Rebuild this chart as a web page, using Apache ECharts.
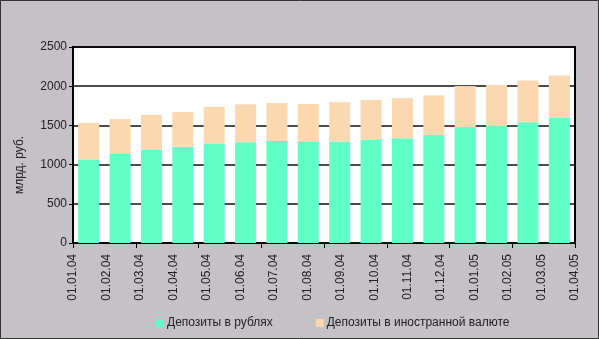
<!DOCTYPE html>
<html>
<head>
<meta charset="utf-8">
<script src="https://cdn.jsdelivr.net/npm/echarts@6/dist/echarts.min.js"></script>
<style>
  html, body { margin: 0; padding: 0; background: #c4c2c4; }
  #chart { width: 599px; height: 339px; }
</style>
</head>
<body>
<div id="chart"></div>
<script>
// Deposits of individuals, bn RUB, monthly snapshots
const categories = ['01.01.04', '01.02.04', '01.03.04', '01.04.04', '01.05.04', '01.06.04',
  '01.07.04', '01.08.04', '01.09.04', '01.10.04', '01.11.04', '01.12.04',
  '01.01.05', '01.02.05', '01.03.05', '01.04.05'];
const rubleDeposits = [1065, 1135, 1190, 1228, 1270, 1286, 1303, 1290, 1295, 1313, 1335, 1376, 1478, 1491, 1540, 1599];
const foreignDeposits = [467, 445, 445, 443, 467, 483, 483, 483, 501, 509, 512, 507, 524, 524, 534, 539];
const seriesNames = ['Депозиты в рублях', 'Депозиты в иностранной валюте'];
const yAxisTitle = 'млрд. руб.';

const FONT = '"Liberation Sans", Arial, sans-serif';
const TEXT = '#222';

const chart = echarts.init(document.getElementById('chart'), null, { renderer: 'canvas' });

chart.setOption({
  backgroundColor: '#c4c2c4',
  animation: false,
  textStyle: { fontFamily: FONT },
  grid: {
    left: 73, right: 24, top: 47, bottom: 96,
    show: true,
    backgroundColor: '#ffffff',
    borderColor: '#000',
    borderWidth: 2,
    outerBoundsMode: 'none'
  },
  legend: {
    left: 151,
    top: 312,
    itemWidth: 8,
    itemHeight: 8,
    itemGap: 43,
    icon: 'rect',
    textStyle: { color: TEXT, fontSize: 12, fontFamily: FONT, padding: [0, 0, 0, -2] },
    data: seriesNames
  },
  xAxis: [
    {
      // bar positions; ticks on category boundaries
      type: 'category',
      data: categories,
      boundaryGap: true,
      position: 'bottom',
      axisLine: { show: true, lineStyle: { color: '#000', width: 2 } },
      axisTick: { show: true, length: 5, lineStyle: { color: '#000', width: 1 } },
      axisLabel: { show: false },
      splitLine: { show: false }
    },
    {
      // date labels spread edge to edge
      type: 'category',
      data: categories,
      boundaryGap: false,
      position: 'bottom',
      axisLine: { show: false },
      axisTick: { show: false },
      axisLabel: {
        rotate: 90,
        interval: 0,
        margin: 11,
        color: TEXT,
        fontSize: 12,
        fontFamily: FONT
      },
      splitLine: { show: false }
    }
  ],
  yAxis: {
    type: 'value',
    min: 0,
    max: 2500,
    interval: 500,
    axisLine: { show: true, lineStyle: { color: '#000', width: 2 } },
    axisTick: { show: true, length: 4, lineStyle: { color: '#000', width: 1 } },
    axisLabel: {
      color: TEXT, fontSize: 12, fontFamily: FONT, margin: 6,
      formatter: (v) => String(v)
    },
    splitLine: { show: true, lineStyle: { color: '#111', width: 1.5 } }
  },
  graphic: [
    {
      type: 'text',
      x: 20,
      y: 165,
      rotation: Math.PI / 2,
      style: {
        text: yAxisTitle,
        fill: TEXT,
        font: '12px ' + FONT,
        align: 'center',
        verticalAlign: 'middle'
      }
    },
    {
      type: 'rect',
      shape: { x: 0.5, y: 0.5, width: 598, height: 338 },
      style: { fill: null, stroke: '#333', lineWidth: 1 },
      silent: true,
      z: 100
    }
  ],
  series: [
    {
      name: seriesNames[0],
      type: 'bar',
      stack: 'total',
      xAxisIndex: 0,
      barWidth: '67%',
      itemStyle: { color: '#60ffc8' },
      data: rubleDeposits
    },
    {
      name: seriesNames[1],
      type: 'bar',
      stack: 'total',
      xAxisIndex: 0,
      barWidth: '67%',
      itemStyle: { color: '#fcd8b0' },
      data: foreignDeposits
    }
  ]
});
</script>
</body>
</html>
